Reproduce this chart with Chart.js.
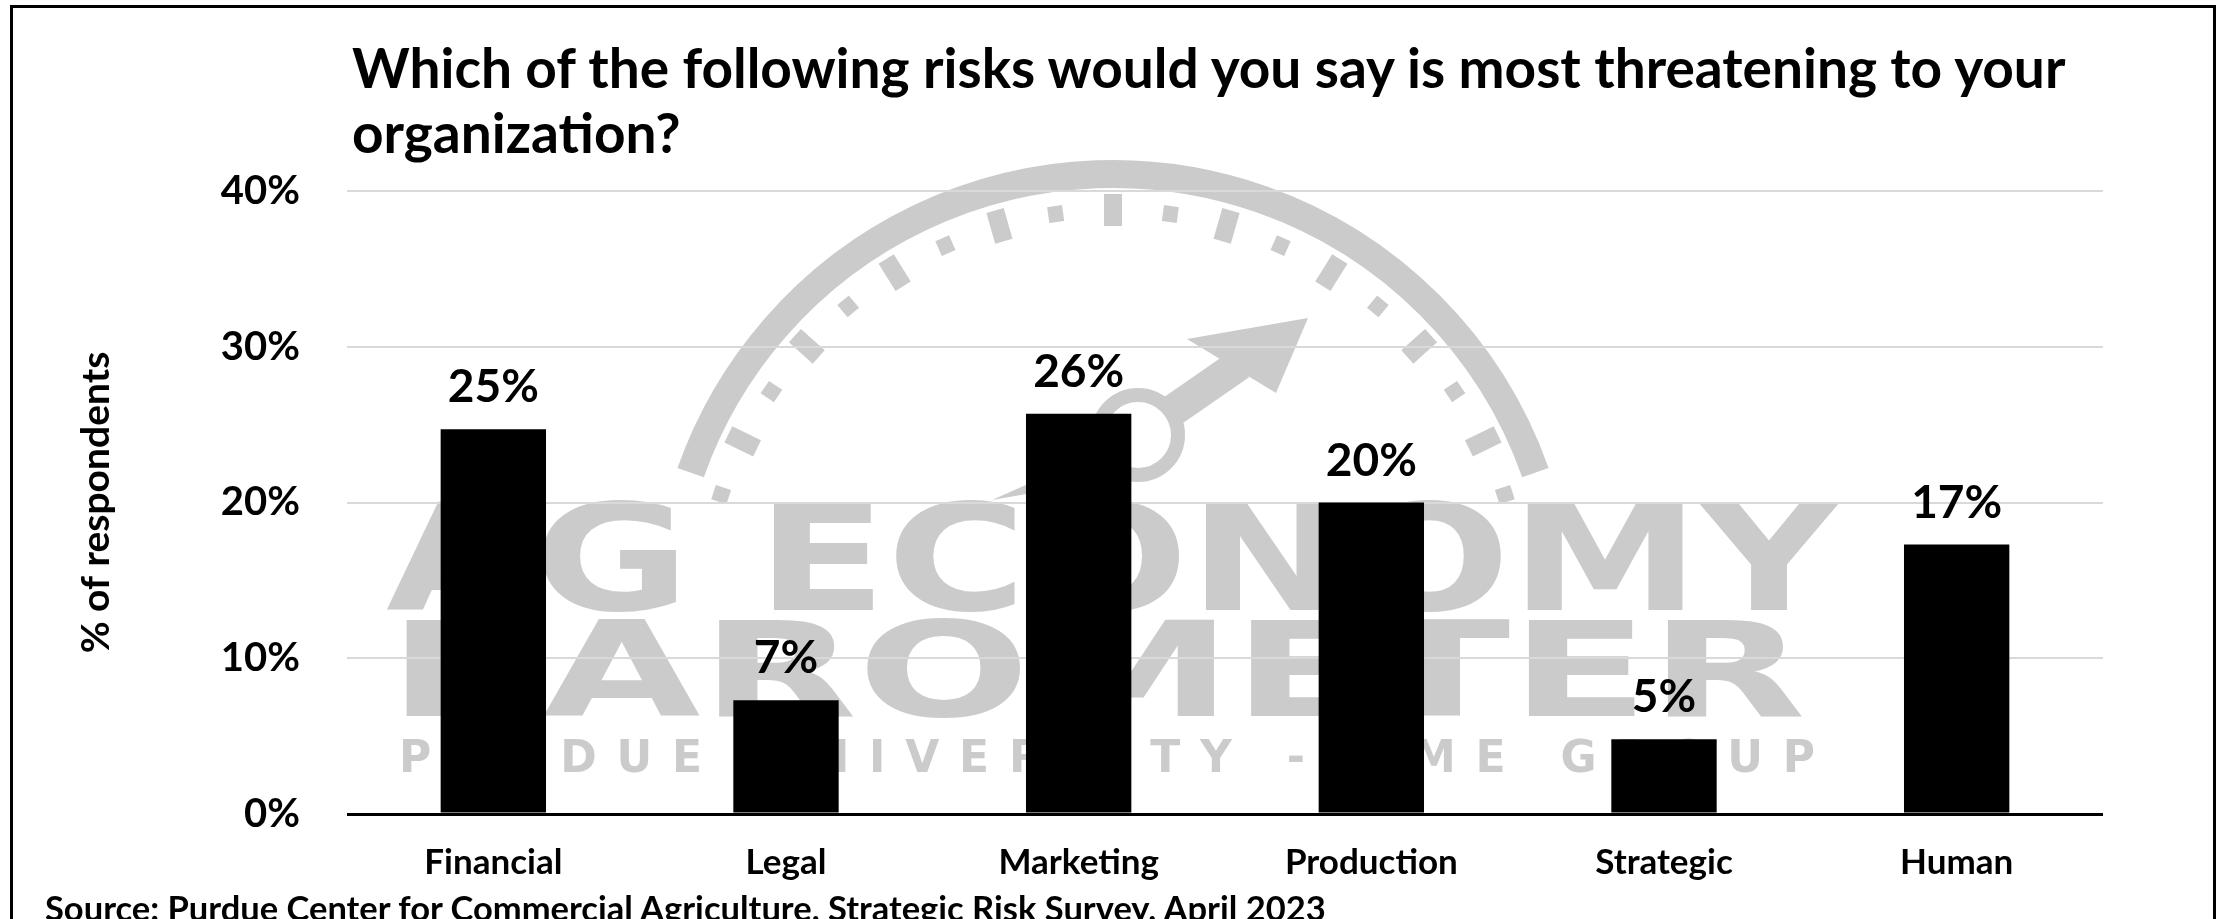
<!DOCTYPE html>
<html>
<head>
<meta charset="utf-8">
<script src="https://cdn.jsdelivr.net/npm/chart.js@4.4.1/dist/chart.umd.min.js"></script>
<style>
    html, body { margin: 0; padding: 0; background: #fff; overflow: hidden; }
    #wrap { position: relative; width: 2224px; height: 919px; background: #fff; overflow: hidden; }
    #riskChart { position: absolute; left: 0; top: 0; }
    #frame {
        position: absolute; left: 10px; top: 5px; width: 2206px; height: 1000px;
        border: 3px solid #000; box-sizing: border-box; pointer-events: none;
    }
    #title {
        position: absolute; left: 352px; top: 35px; white-space: nowrap;
        font: bold 55px Lato, sans-serif; line-height: 65px; color: #000;
    }
    #source {
        position: absolute; left: 45px; top: 887px; white-space: nowrap;
        font: bold 34.5px Lato, sans-serif; line-height: 42px; color: #000;
    }
</style>
</head>
<body>
<div id="wrap">
    <canvas id="riskChart" width="2224" height="919"></canvas>
    <div id="title">Which of the following risks would you say is most threatening to your<br>organization?</div>
    <div id="source">Source: Purdue Center for Commercial Agriculture, Strategic Risk Survey, April 2023</div>
    <div id="frame"></div>
</div>
<script>
// Survey data
const categories = ['Financial', 'Legal', 'Marketing', 'Production', 'Strategic', 'Human'];
const shares = [24.7, 7.3, 25.7, 20.0, 4.8, 17.3];
const yTicks = [0, 10, 20, 30, 40];

const WM = '#cbcbcb';

// Faded "Ag Economy Barometer" logo behind the plot
const watermarkPlugin = {
    id: 'watermark',
    beforeDraw(chart) {
        const ctx = chart.ctx;
        ctx.save();
        ctx.fillStyle = WM;
        ctx.strokeStyle = WM;

        // gauge arc
        const cx = 1113, cy = 622;
        ctx.lineWidth = 28;
        ctx.beginPath();
        ctx.arc(cx, cy, 448, Math.PI + 0.34, 2 * Math.PI - 0.34);
        ctx.stroke();

        // gauge dashes
        for (let k = -9; k <= 9; k++) {
            const a = -Math.PI / 2 + k * 8 * Math.PI / 180;
            const long = k % 2 === 0;
            const r1 = long ? 396 : 404, r2 = long ? 428 : 420;
            ctx.lineWidth = long ? 18 : 15;
            ctx.beginPath();
            ctx.moveTo(cx + r1 * Math.cos(a), cy + r1 * Math.sin(a));
            ctx.lineTo(cx + r2 * Math.cos(a), cy + r2 * Math.sin(a));
            ctx.stroke();
        }

        // needle
        ctx.lineWidth = 14;
        ctx.beginPath();
        ctx.arc(1138, 435, 40, 0, 2 * Math.PI);
        ctx.stroke();
        ctx.lineWidth = 32;
        ctx.beginPath();
        ctx.moveTo(1165, 416);
        ctx.lineTo(1240, 364);
        ctx.stroke();
        ctx.beginPath();
        ctx.moveTo(1308, 318);
        ctx.lineTo(1187, 339);
        ctx.lineTo(1276, 393);
        ctx.closePath();
        ctx.fill();
        ctx.beginPath();
        ctx.moveTo(1100, 452);
        ctx.lineTo(1118, 478);
        ctx.lineTo(992, 500);
        ctx.closePath();
        ctx.fill();

        // lettering, stretched to the logo width
        const stretch = (text, font, x1, x2, baseline) => {
            ctx.font = font;
            const w = ctx.measureText(text).width;
            ctx.save();
            ctx.translate(x1, baseline);
            ctx.scale((x2 - x1) / w, 1);
            ctx.textAlign = 'left';
            ctx.textBaseline = 'alphabetic';
            ctx.fillText(text, 0, 0);
            ctx.restore();
        };
        const spread = (text, font, x1, x2, baseline) => {
            ctx.font = font;
            ctx.letterSpacing = '0px';
            const w = ctx.measureText(text).width;
            ctx.letterSpacing = ((x2 - x1 - w) / (text.length - 1)) + 'px';
            ctx.textAlign = 'left';
            ctx.textBaseline = 'alphabetic';
            ctx.fillText(text, x1, baseline);
            ctx.letterSpacing = '0px';
        };
        stretch('AG ECONOMY', 'bold 148px "DejaVu Sans"', 386, 1838, 610);
        stretch('BAROMETER', 'bold 132px "DejaVu Sans"', 388, 1806, 716);
        spread('PURDUE UNIVERSITY - CME GROUP', 'bold 44px "DejaVu Sans"', 399, 1815, 772);
        ctx.restore();
    }
};

// Rounded value labels above each bar
const barLabelPlugin = {
    id: 'barLabels',
    afterDatasetsDraw(chart) {
        const ctx = chart.ctx;
        const meta = chart.getDatasetMeta(0);
        ctx.save();
        ctx.font = 'bold 46px Lato';
        ctx.fillStyle = '#000';
        ctx.textAlign = 'center';
        ctx.textBaseline = 'alphabetic';
        meta.data.forEach((bar, i) => {
            ctx.fillText(Math.round(shares[i]) + '%', bar.x, bar.y - 27);
        });
        ctx.restore();
    }
};

Chart.defaults.font.family = 'Lato';
Chart.defaults.color = '#000';

new Chart(document.getElementById('riskChart'), {
    type: 'bar',
    data: {
        labels: categories,
        datasets: [{
            data: shares,
            backgroundColor: '#000',
            borderWidth: 0,
            barPercentage: 0.36,
            categoryPercentage: 1
        }]
    },
    options: {
        responsive: false,
        animation: false,
        layout: {
            padding: { left: 70, right: 121, top: 191, bottom: 15 }
        },
        plugins: {
            legend: { display: false },
            tooltip: { enabled: false }
        },
        scales: {
            x: {
                grid: { display: false },
                border: { display: false },
                ticks: {
                    font: { size: 35, weight: 'bold' },
                    padding: 20
                }
            },
            y: {
                min: yTicks[0],
                max: yTicks[yTicks.length - 1],
                afterBuildTicks: (scale) => {
                    scale.ticks = yTicks.map(v => ({ value: v }));
                },
                afterFit: (scale) => {
                    scale.width = 347 - 70;
                },
                border: { display: false },
                grid: {
                    drawTicks: false,
                    color: (c) => c.tick && c.tick.value === 0 ? '#000' : '#d9d9d9',
                    lineWidth: (c) => c.tick && c.tick.value === 0 ? 3 : 2
                },
                ticks: {
                    font: { size: 40, weight: 'bold' },
                    padding: 47,
                    callback: (v) => v + '%'
                },
                title: {
                    display: true,
                    text: '% of respondents',
                    font: { size: 39, weight: 'bold' },
                    padding: { top: 3, bottom: 3 }
                }
            }
        }
    },
    plugins: [watermarkPlugin, barLabelPlugin]
});
</script>
</body>
</html>
